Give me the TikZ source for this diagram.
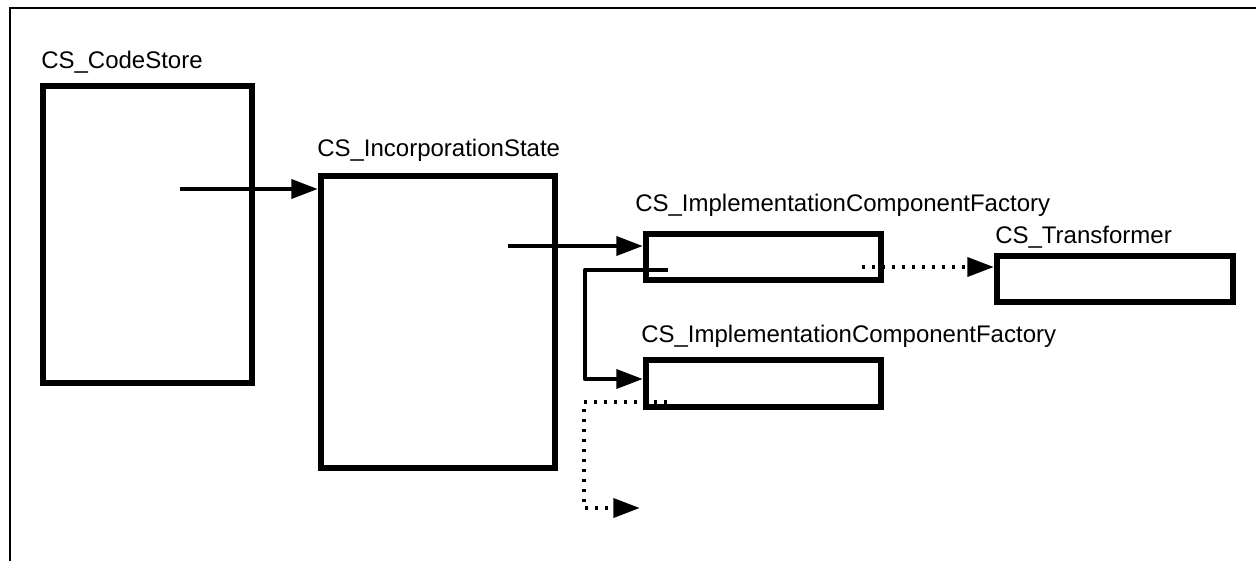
\documentclass[tikz,border=0pt]{standalone}
\usepackage{fontspec}
\setmainfont{Liberation Sans}
\usetikzlibrary{arrows.meta}
\begin{document}
\begin{tikzpicture}[x=0.75pt,y=-0.75pt,
  box/.style={draw, line width=4.5pt, rectangle, inner sep=0pt},
  lbl/.style={anchor=base west, inner sep=0pt, font=\fontsize{18pt}{20pt}\selectfont},
  flow/.style={line width=3.5pt, line join=round, -{Triangle[length=20pt,width=14pt]}},
  dotflow/.style={flow, dash pattern=on 2pt off 5.5pt},
  frameline/.style={line width=2pt}
]
\useasboundingbox (0,0) rectangle (1256,561);
\draw[frameline] (10,561) -- (10,8) -- (1256,8);

\node[box, minimum width=209*0.75pt, minimum height=297*0.75pt] (store) at (147.5,234.5) {};
\node[box, minimum width=234*0.75pt, minimum height=292*0.75pt] (inc) at (438,322) {};
\node[box, minimum width=235*0.75pt, minimum height=46*0.75pt] (icfa) at (763.5,257) {};
\node[box, minimum width=235*0.75pt, minimum height=47*0.75pt] (icfb) at (763.5,383.5) {};
\node[box, minimum width=236*0.75pt, minimum height=46*0.75pt] (tr) at (1115,279) {};

\node[lbl] (lstore) at (41,68) {CS\_CodeStore};
\node[lbl] (linc) at (317,156) {CS\_IncorporationState};
\node[lbl] (licfa) at (635,211) {CS\_ImplementationComponentFactory};
\node[lbl] (licfb) at (641,342) {CS\_ImplementationComponentFactory};
\node[lbl] (ltr) at (995,243) {CS\_Transformer};

\coordinate (s1) at (180,189);
\draw[flow] (s1) -- (s1 -| inc.west);
\coordinate (s2) at (508,246);
\draw[flow] (s2) -- (s2 -| icfa.west);
\coordinate (s3) at (668,270);
\coordinate (k3) at (585,379);
\draw[flow] (s3) -| (k3) -- (k3 -| icfb.west);
\coordinate (s4) at (862,267);
\draw[dotflow] (s4) -- (s4 -| tr.west);
\coordinate (s5) at (667,402);
\coordinate (k5) at (584,508);
\coordinate (e5) at (640,508);
\draw[dotflow] (s5) -| (k5) -- (e5);
\end{tikzpicture}
\end{document}
